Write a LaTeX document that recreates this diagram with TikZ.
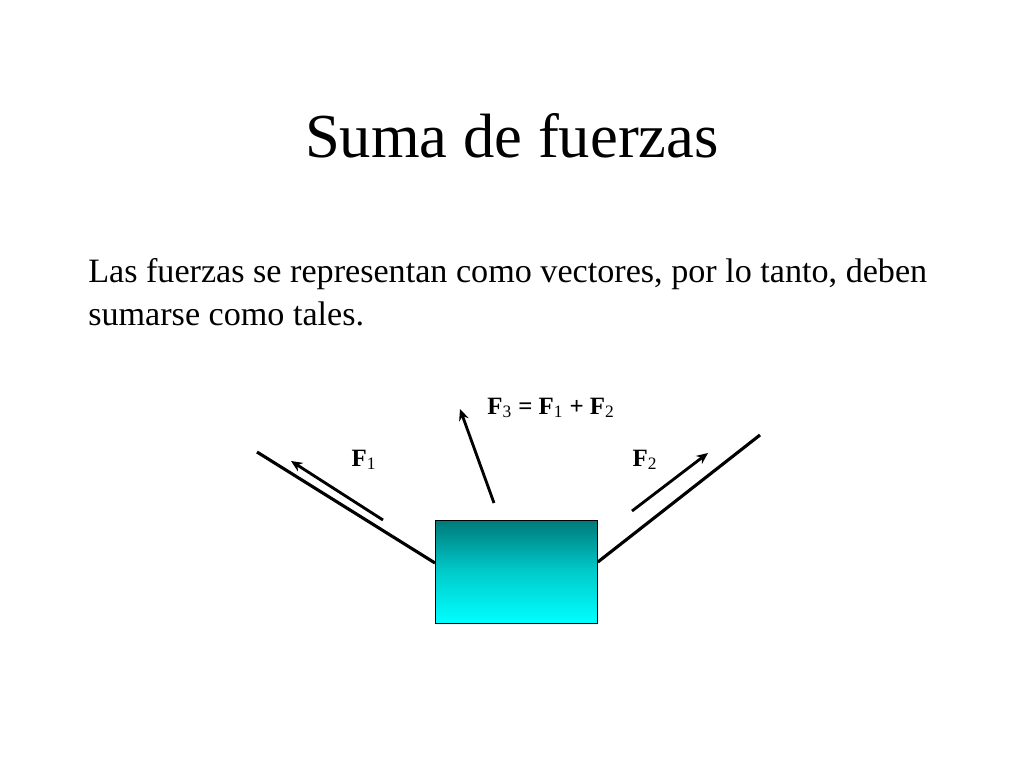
\documentclass[tikz,border=0pt]{standalone}
\usepackage{fontspec}
\setmainfont{Liberation Serif}
\usetikzlibrary{positioning,arrows.meta}

\begin{document}
\begin{tikzpicture}[
      x=0.703pt, y=-0.703pt,
      rope/.style={line width=2.2pt},
      force/.style={-{Stealth[length=8pt,width=7pt]}, line width=2pt},
      flabel/.style={font=\fontsize{17.5}{20}\selectfont\bfseries}
    ]
      \useasboundingbox (0,0) rectangle (1024,768);

      % Text
      \node (title) at (512,136) {\fontsize{44}{50}\selectfont Suma de fuerzas};
      \node[anchor=north west, align=left, inner sep=0pt, font=\fontsize{24}{30.5}\selectfont] (body) at (88,258)
        {Las fuerzas se representan como vectores, por lo tanto, deben\\sumarse como tales.};

      % Block
      \node[draw, line width=0.6pt, minimum width=162*0.703pt, minimum height=103*0.703pt,
        top color=teal!95!black, bottom color=cyan, middle color=cyan!60!teal,
        anchor=north west] (block) at (435,520) {};

      % Ropes
      \coordinate (L) at (257,452);
      \coordinate (R) at (760,435);
      \draw[rope] (L) -- (block.west |- 0,563);
      \draw[rope] (R) -- (block.east |- 0,562);

      % Forces
      \coordinate (f1a) at (383,520); \coordinate (f1b) at (291,461);
      \coordinate (f2a) at (632,511); \coordinate (f2b) at (708,453);
      \coordinate (f3a) at (494,503); \coordinate (f3b) at (460,409);
      \draw[force] (f1a) -- (f1b);
      \draw[force] (f2a) -- (f2b);
      \draw[force] (f3a) -- (f3b);

      % Labels
      \node[flabel] (lf1) at (364,460) {F\textsubscript{\mdseries 1}};
      \node[flabel] (lf2) at (645,460) {F\textsubscript{\mdseries 2}};
      \node[flabel] (lf3) at (551,408) {F\textsubscript{\mdseries 3} = F\textsubscript{\mdseries 1} + F\textsubscript{\mdseries 2}};
    \end{tikzpicture}
\end{document}
